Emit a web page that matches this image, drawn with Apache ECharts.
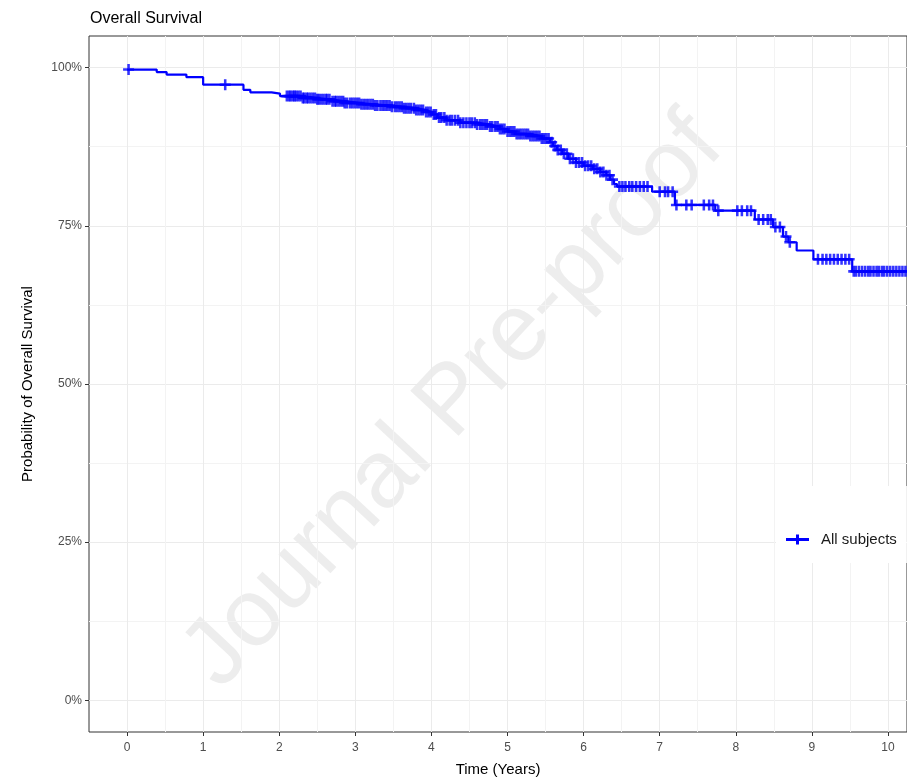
<!DOCTYPE html>
<html>
<head>
<meta charset="utf-8">
<script src="https://cdn.jsdelivr.net/npm/echarts@6/dist/echarts.min.js"></script>
<style>
html,body{margin:0;padding:0;background:#fff;}
#main{width:907px;height:783px;}
</style>
</head>
<body>
<div id="main"></div>
<script>
// step points of the KM curve (years, survival %)
var stepTimes = [0, 0.39, 0.52, 0.78, 1.00, 1.53, 1.62, 1.90, 2.01, 2.30, 2.50, 2.67, 2.85, 3.06, 3.25, 3.46, 3.62, 3.80, 3.92, 4.00, 4.08, 4.20, 4.38, 4.60, 4.77, 4.90, 5.00, 5.10, 5.30, 5.45, 5.56, 5.60, 5.65, 5.72, 5.80, 5.90, 6.00, 6.12, 6.22, 6.30, 6.35, 6.40, 6.44, 6.90, 7.20, 7.73, 8.25, 8.49, 8.62, 8.69, 8.80, 9.02, 9.53, 10.25];
var stepSurv = [99.7, 99.3, 98.9, 98.5, 97.3, 96.5, 96.1, 95.9, 95.5, 95.2, 95.0, 94.7, 94.4, 94.2, 94.0, 93.8, 93.6, 93.3, 93.0, 92.6, 92.1, 91.7, 91.3, 91.0, 90.7, 90.3, 89.9, 89.5, 89.2, 88.8, 88.2, 87.6, 87.0, 86.4, 85.6, 85.0, 84.5, 84.0, 83.5, 83.0, 82.3, 81.6, 81.2, 80.4, 78.3, 77.4, 76.0, 74.8, 73.3, 72.4, 71.1, 69.7, 67.8, 67.8];

// censoring times (years)
var censorTimes = [0.02, 1.29,
  2.10, 2.13, 2.15, 2.18, 2.20, 2.22, 2.25, 2.28, 2.31, 2.33, 2.36, 2.38, 2.41, 2.44, 2.47, 2.50, 2.52, 2.55, 2.58, 2.61, 2.63, 2.66, 2.70, 2.73, 2.75, 2.78, 2.81, 2.84, 2.86, 2.89, 2.93, 2.96, 2.99,
  3.02, 3.05, 3.08, 3.11, 3.14, 3.17, 3.20, 3.23, 3.26, 3.29, 3.33, 3.36, 3.39, 3.42, 3.45, 3.48, 3.52, 3.55, 3.58, 3.61, 3.64, 3.67, 3.70, 3.73, 3.77, 3.80, 3.83, 3.86, 3.89, 3.93, 3.96, 3.99,
  4.03, 4.06, 4.10, 4.13, 4.17, 4.20, 4.24, 4.27, 4.31, 4.35, 4.38, 4.42, 4.46, 4.50, 4.53, 4.57, 4.60, 4.64, 4.67, 4.70, 4.73, 4.77, 4.80, 4.84, 4.87, 4.90, 4.93, 4.96,
  5.00, 5.03, 5.06, 5.09, 5.12, 5.15, 5.18, 5.21, 5.24, 5.27, 5.30, 5.33, 5.36, 5.39, 5.42, 5.45, 5.48, 5.51, 5.54, 5.58, 5.62, 5.66, 5.70, 5.74, 5.78, 5.82, 5.86, 5.90, 5.94, 5.98,
  6.02, 6.06, 6.10, 6.14, 6.18, 6.22, 6.26, 6.30, 6.34, 6.38, 6.47, 6.51, 6.55, 6.60, 6.64, 6.69, 6.74, 6.79, 6.84,
  7.00, 7.07, 7.11, 7.17, 7.22, 7.35, 7.42, 7.58, 7.65, 7.70, 7.77,
  8.02, 8.08, 8.15, 8.20, 8.30, 8.36, 8.42, 8.46, 8.52, 8.58, 8.66, 8.71,
  9.08, 9.14, 9.19, 9.24, 9.29, 9.34, 9.39, 9.44, 9.49, 9.55,
  9.58, 9.62, 9.66, 9.70, 9.74, 9.77, 9.81, 9.85, 9.88, 9.92, 9.95, 9.99, 10.03, 10.07, 10.11, 10.15, 10.19, 10.23];

var xTicks = [0, 1, 2, 3, 4, 5, 6, 7, 8, 9, 10];
var xMinor = [0.5, 1.5, 2.5, 3.5, 4.5, 5.5, 6.5, 7.5, 8.5, 9.5];
var yTicks = [0, 25, 50, 75, 100];
var yMinor = [12.5, 37.5, 62.5, 87.5];

function survAt(t){
    var s = stepSurv[0];
    for (var i = 0; i < stepTimes.length; i++) {
        if (stepTimes[i] <= t) s = stepSurv[i];
    }
    return s;
}

var curve = stepTimes.map(function(t, i){ return [t, stepSurv[i]]; });
var censor = censorTimes.map(function(t){ return [t, survAt(t)]; });

var plus = 'path://M4,0h2.4v4h4v2.4h-4v4h-2.4v-4h-4v-2.4h4z';
var legendIcon = 'path://M0,3.5h10v-3.5h3v3.5h10v3h-10v3.5h-3v-3.5h-10z';
var blue = '#0000ff';

var myChart = echarts.init(document.getElementById('main'));
var option = {
    animation: false,
    backgroundColor: '#fff',
    title: {
        text: 'Overall Survival',
        left: 85,
        top: 6,
        textStyle: {fontFamily: 'Liberation Sans', fontSize: 16, fontWeight: 'normal', color: '#000'}
    },
    legend: {
        data: ['All subjects'],
        left: 776,
        top: 486,
        backgroundColor: '#fff',
        padding: [46, 10, 16, 10],
        itemWidth: 23,
        itemHeight: 10,
        icon: legendIcon,
        textStyle: {fontFamily: 'Liberation Sans', fontSize: 15, color: '#1a1a1a', padding: [0, 0, 0, 7]}
    },
    grid: {
        left: 89, right: -2, top: 36, bottom: 51,
        show: true, borderColor: '#333', borderWidth: 1, backgroundColor: 'transparent'
    },
    graphic: [{
        type: 'text',
        x: 454, y: 402,
        rotation: 47 * Math.PI / 180,
        z: -10,
        silent: true,
        style: {
            text: 'Journal Pre-proof',
            fontFamily: 'Liberation Sans',
            fontSize: 96,
            fill: 'rgba(150,150,150,0.17)',
            align: 'center',
            verticalAlign: 'middle'
        }
    }],
    xAxis: [{
        type: 'value', min: -0.5, max: 10.25,
        name: 'Time (Years)', nameLocation: 'middle', nameGap: 30,
        nameTextStyle: {fontFamily: 'Liberation Sans', fontSize: 15, color: '#000'},
        axisLine: {show: false, onZero: false},
        axisTick: {show: true, length: 4, customValues: xTicks, lineStyle: {color: '#333'}},
        axisLabel: {customValues: xTicks, margin: 10, fontFamily: 'Liberation Sans', fontSize: 12, color: '#4d4d4d'},
        splitLine: {show: true, lineStyle: {color: '#ebebeb', width: 1}}
    }, {
        type: 'value', min: -0.5, max: 10.25, position: 'top',
        axisLine: {show: false, onZero: false},
        axisTick: {show: false, customValues: xMinor},
        axisLabel: {show: false, customValues: xMinor},
        splitLine: {show: true, lineStyle: {color: '#f3f3f3', width: 1}}
    }],
    yAxis: [{
        type: 'value', min: -5, max: 105,
        name: 'Probability of Overall Survival', nameLocation: 'middle', nameGap: 54,
        nameTextStyle: {fontFamily: 'Liberation Sans', fontSize: 15, color: '#000'},
        axisLine: {show: false, onZero: false},
        axisTick: {show: true, length: 4, customValues: yTicks, lineStyle: {color: '#333'}},
        axisLabel: {customValues: yTicks, margin: 7, fontFamily: 'Liberation Sans', fontSize: 12, color: '#4d4d4d',
            formatter: function(v){ return v + '%'; }},
        splitLine: {show: true, lineStyle: {color: '#ebebeb', width: 1}}
    }, {
        type: 'value', min: -5, max: 105, position: 'right',
        axisLine: {show: false, onZero: false},
        axisTick: {show: false, customValues: yMinor},
        axisLabel: {show: false, customValues: yMinor},
        splitLine: {show: true, lineStyle: {color: '#f3f3f3', width: 1}}
    }],
    series: [{
        name: 'All subjects',
        type: 'line',
        step: 'end',
        data: curve,
        showSymbol: false,
        lineStyle: {color: blue, width: 2.2},
        itemStyle: {color: blue},
        z: 3
    }, {
        name: 'censor',
        type: 'scatter',
        data: censor,
        symbol: plus,
        symbolSize: [11, 11],
        itemStyle: {color: blue},
        z: 4
    }]
};
myChart.setOption(option);
</script>
</body>
</html>
